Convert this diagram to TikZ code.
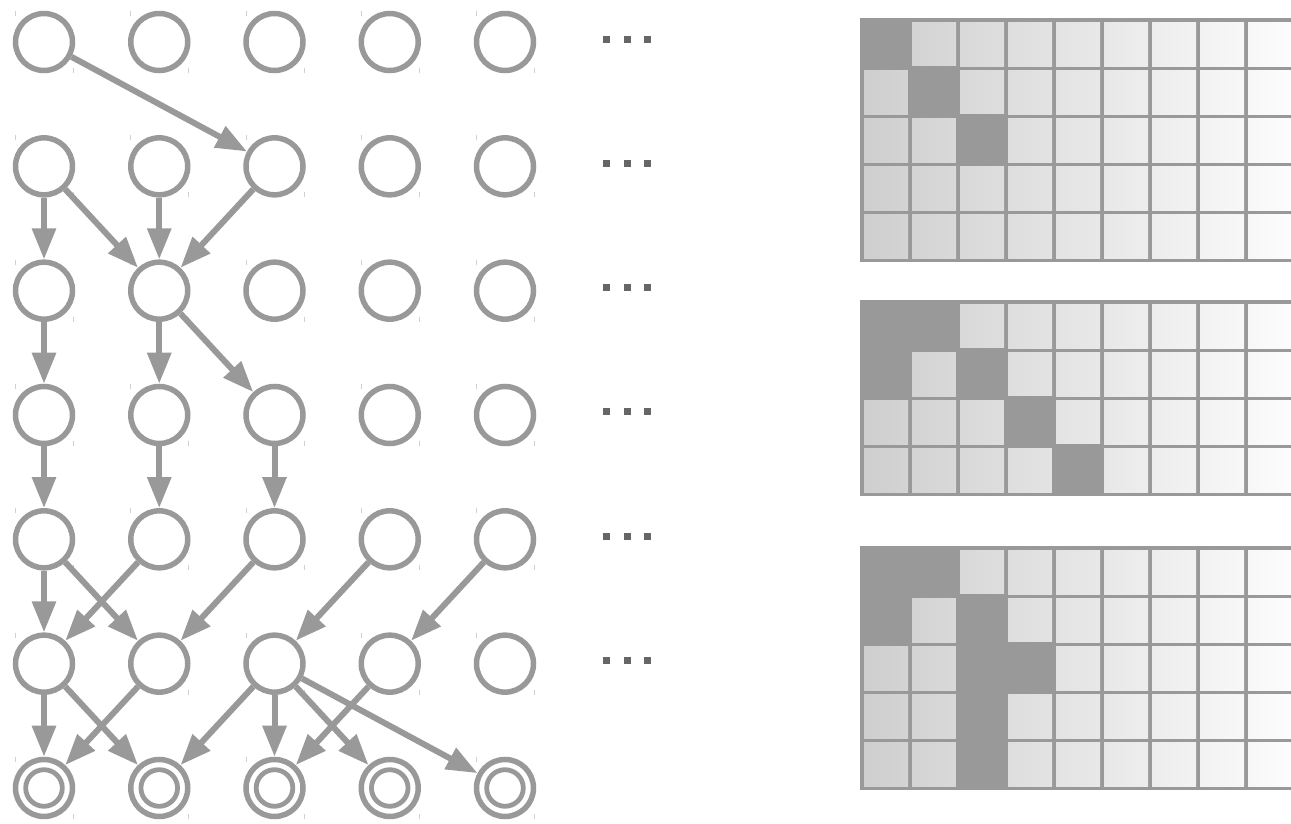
\documentclass[tikz,border=0pt]{standalone}
\usetikzlibrary{arrows.meta}
\definecolor{edgegray}{HTML}{999999}
\definecolor{dotgray}{HTML}{666666}
\definecolor{tickgray}{HTML}{D0D0D0}
\tikzset{
  state/.style={circle, draw=edgegray, line width=5.5pt, minimum size=57pt, inner sep=0pt},
  edge/.style={draw=edgegray, line width=6pt, -{Triangle[length=31pt,width=23pt]}},
  ring/.style={draw=edgegray, line width=4.8pt},
  tickmark/.style={draw=tickgray, line width=1pt},
  dotsq/.style={fill=dotgray},
}
\newcommand{\gridblock}[3]{%
  \fill[edgegray] (860,{#1-2}) rectangle (1300,{#1+48*#2+2});
  \foreach \gr in {1,...,#2}{\foreach \gc in {0,...,8}{
    \pgfmathtruncatemacro\kl{19-2*\gc}\pgfmathtruncatemacro\kr{17-2*\gc}
    \shade[left color=black!\kl, right color=black!\kr] ({862+48*\gc+2},{#1+48*(\gr-1)+2}) rectangle ++(44,44);
  }}
  \foreach \gc/\gr in {#3}{\fill[edgegray] ({862+48*\gc-2},{#1+48*\gr-2}) rectangle ++(52,52);}
}
\begin{document}
\begin{tikzpicture}[x=1pt,y=-1pt]
\useasboundingbox (0,0) rectangle (1291,823);
\begin{scope}
\clip (0,0) rectangle (1291,823);
% nodes
\foreach \gr in {0,...,6}{\foreach \gc in {0,...,4}{
  \node[state] (n\gr\gc) at ({44+115.25*\gc},{42+124.33*\gr}) {};
  \draw[tickmark] ([shift={(-28.5,-31)}]n\gr\gc.center) -- ++(0,5);
  \draw[tickmark] ([shift={(29.5,26)}]n\gr\gc.center) -- ++(0,5);
}}
\foreach \gc in {0,...,4}{\draw[ring] (n6\gc.center) circle[radius=18.3];}
% edges
\foreach \a/\b in {00/12, 10/20, 10/21, 11/21, 12/21, 20/30, 21/31, 21/32, 30/40, 31/41, 32/42,
  40/50, 40/51, 41/50, 42/51, 43/52, 44/53, 50/60, 50/61, 51/60, 52/61, 52/62, 52/63, 52/64, 53/62}
  {\draw[edge] (n\a) -- (n\b);}
% dots
\foreach \gr in {0,...,5}{\foreach \dx in {606,627,647}{
  \fill[dotsq] ({\dx-3.5},{42+124.33*\gr-6.5}) rectangle ++(7,7);
}}
% grids
\gridblock{20}{5}{0/0,1/1,2/2}
\gridblock{302}{4}{0/0,1/0,0/1,2/1,3/2,4/3}
\gridblock{548}{5}{0/0,1/0,0/1,2/1,2/2,3/2,2/3,2/4}
\end{scope}
\end{tikzpicture}
\end{document}
